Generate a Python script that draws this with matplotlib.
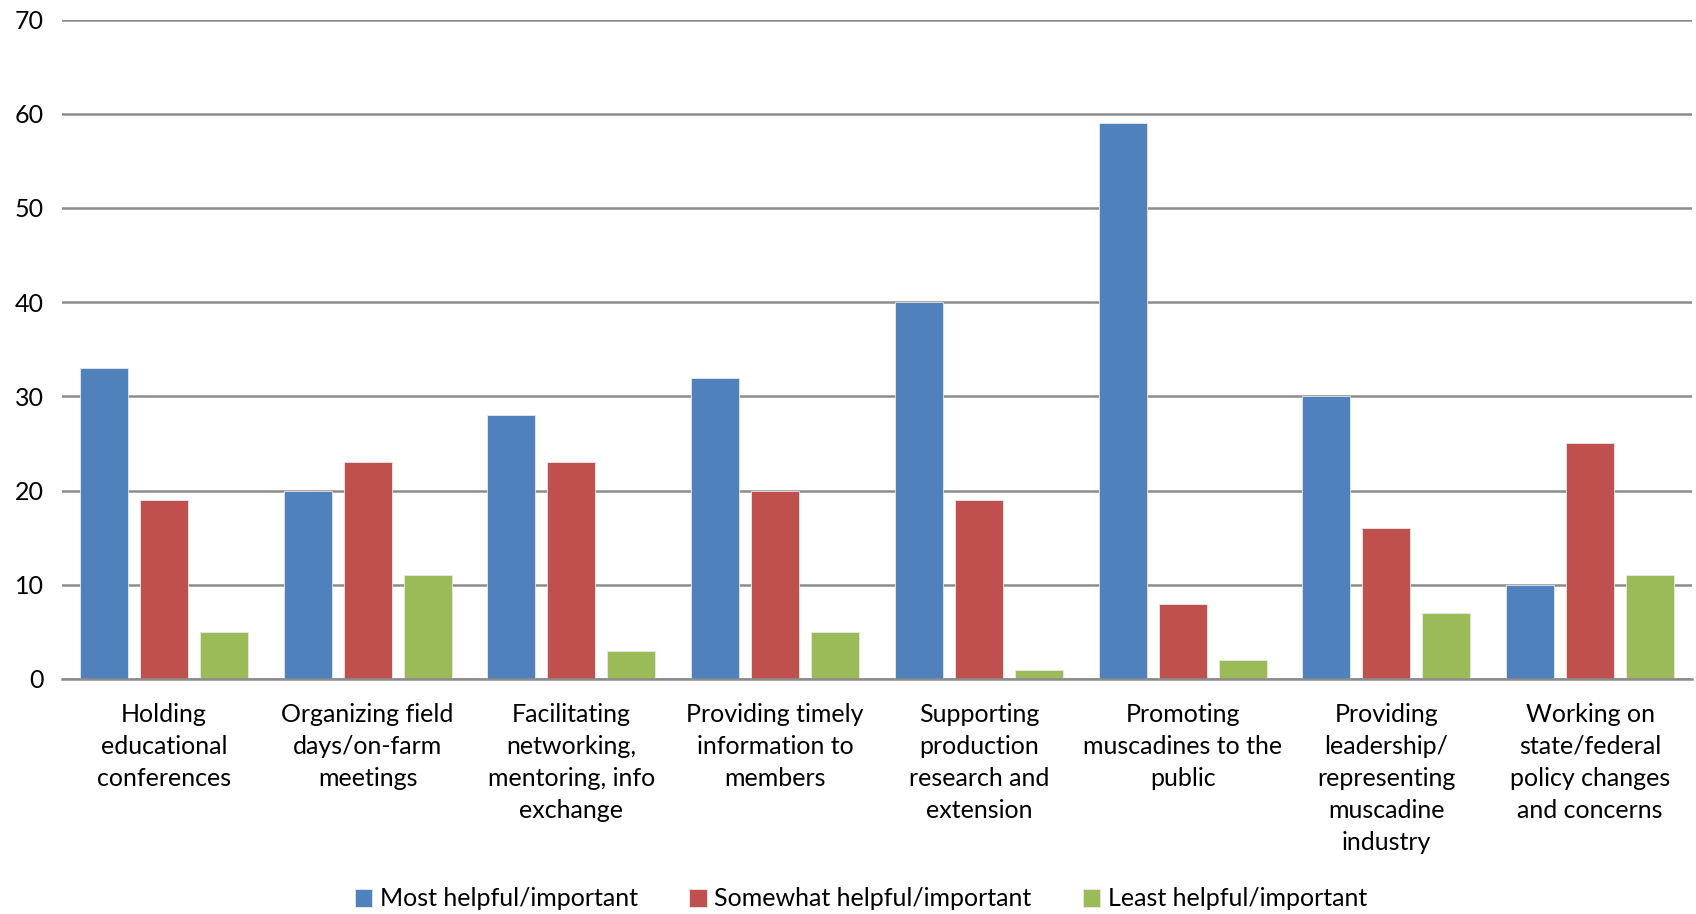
import matplotlib
matplotlib.use("Agg")
import matplotlib.pyplot as plt
import numpy as np

categories = [
    "Holding\neducational\nconferences",
    "Organizing field\ndays/on-farm\nmeetings",
    "Facilitating\nnetworking,\nmentoring, info\nexchange",
    "Providing timely\ninformation to\nmembers",
    "Supporting\nproduction\nresearch and\nextension",
    "Promoting\nmuscadines to the\npublic",
    "Providing\nleadership/\nrepresenting\nmuscadine\nindustry",
    "Working on\nstate/federal\npolicy changes\nand concerns",
]
series_names = ["Most helpful/important", "Somewhat helpful/important", "Least helpful/important"]
most = [33, 20, 28, 32, 40, 59, 30, 10]
somewhat = [19, 23, 23, 20, 19, 8, 16, 25]
least = [5, 11, 3, 5, 1, 2, 7, 11]
colors = ["#4F81BD", "#C0504D", "#9BBB59"]

plt.rcParams['font.family'] = ['Lato', 'DejaVu Sans']
FS = 18

fig = plt.figure(figsize=(16.96, 9.14), dpi=100)
ax = fig.add_axes([62/1696, 1-679/914, (1692-62)/1696, (679-19.5)/914])

x = np.arange(len(categories))
step = 60/203.75
w = 48/203.75
for i, (vals, name, c) in enumerate(zip([most, somewhat, least], series_names, colors)):
    ax.bar(x + (i-1)*step, vals, width=w, color=c, label=name, zorder=3,
           edgecolor="#e8e8e8", linewidth=0.6)

ax.set_xlim(-0.5, len(categories)-0.5)
ax.set_ylim(0, 70)
ax.set_yticks(range(0, 71, 10))
ax.yaxis.grid(True, color="#8c8c8c", linewidth=1.8, zorder=0)
ax.set_axisbelow(True)
for s in ["top", "right", "left"]:
    ax.spines[s].set_visible(False)
ax.spines["bottom"].set_color("#8c8c8c")
ax.spines["bottom"].set_linewidth(1.8)
ax.spines["bottom"].set_zorder(4)
ax.tick_params(axis="y", length=0, pad=13, labelsize=FS)
ax.tick_params(axis="x", length=0, pad=17, labelsize=FS)
ax.set_xticks(x)
ax.set_xticklabels(categories, linespacing=1.48)
for lbl in ax.get_yticklabels():
    lbl.set_horizontalalignment("right")

fig.legend(loc="center", bbox_to_anchor=(861/1696, 1-899/914), ncol=3, frameon=False,
           fontsize=FS, handlelength=0.7, handleheight=0.7, handletextpad=0.3,
           columnspacing=2.05)

fig.savefig("out.png", dpi=100)
